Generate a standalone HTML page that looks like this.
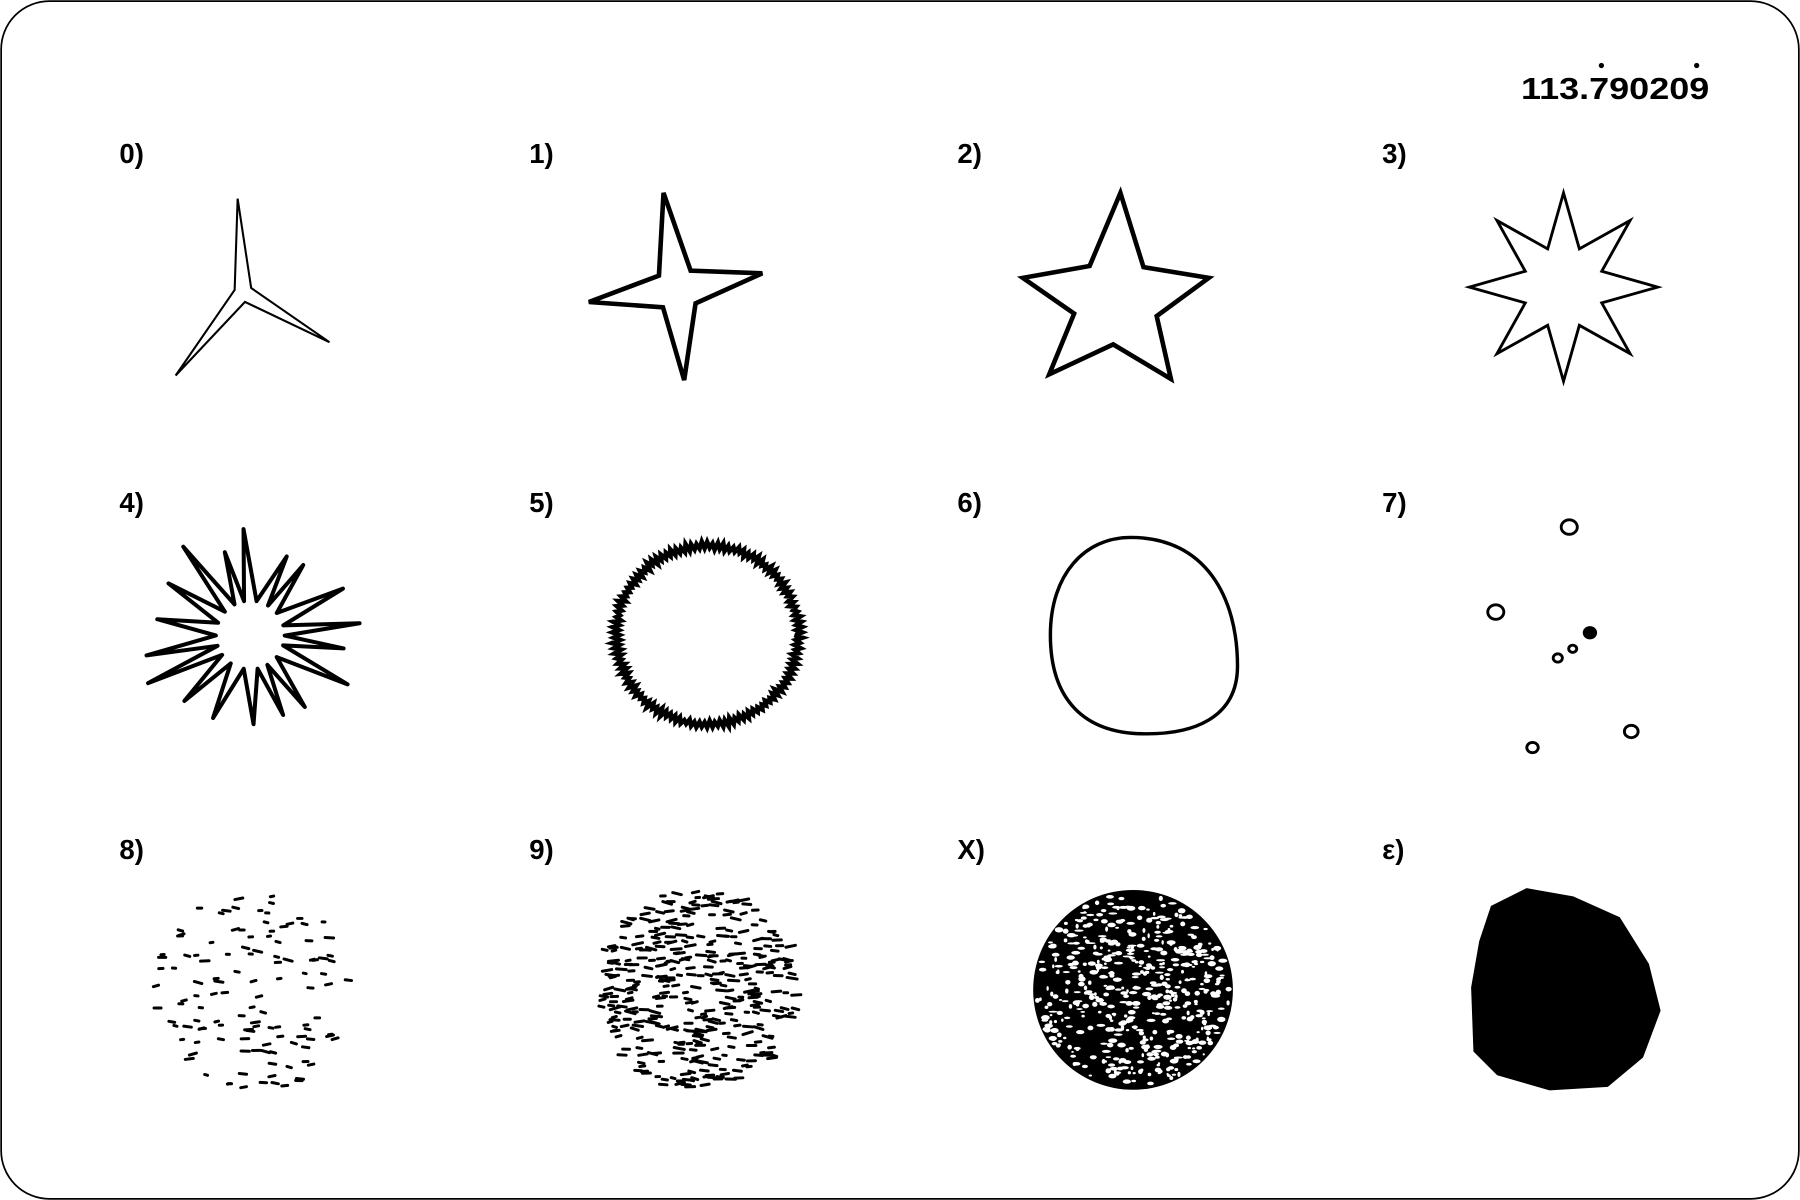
<!DOCTYPE html>
<html><head><meta charset="utf-8">
<style>
html,body{margin:0;padding:0;background:#fff;}
svg{display:block;}
text{font-family:"Liberation Sans",sans-serif;font-weight:bold;fill:#000;}
</style></head>
<body>
<svg id="s" width="1800" height="1200" viewBox="0 0 1568 1045" preserveAspectRatio="none" xmlns="http://www.w3.org/2000/svg">
<rect x="1" y="1" width="1566" height="1043" rx="42" ry="42" fill="#fff" stroke="#000" stroke-width="1.5"/>
<text x="1325" y="86" font-size="27" textLength="164" lengthAdjust="spacingAndGlyphs">113.790209</text>
<circle cx="1395" cy="57" r="2.3" fill="#000"/>
<circle cx="1478" cy="57" r="2.3" fill="#000"/>
<g id="labels" font-size="24"></g>
<g id="shapes"></g>
</svg>
<script>
const labels=["0)","1)","2)","3)","4)","5)","6)","7)","8)","9)","X)","ε)"];
const colX=[104,461,834,1204];
const rowY=[142,446,748];
const NS="http://www.w3.org/2000/svg";
const lg=document.getElementById('labels'),sg=document.getElementById('shapes');
labels.forEach((t,i)=>{
  const e=document.createElementNS(NS,'text');
  e.setAttribute('x',colX[i%4]);e.setAttribute('y',rowY[Math.floor(i/4)]);e.textContent=t;
  
  
  lg.appendChild(e);
});
function el(tag,attrs,name){const e=document.createElementNS(NS,tag);for(const k in attrs)e.setAttribute(k,attrs[k]);
  
  
  sg.appendChild(e);return e;}
let seed=12345;function rnd(){seed=(seed*16807)%2147483647;return seed/2147483647;}
function starFromTips(cx,cy,tips,inner){let d="";const n=tips.length;
  tips.forEach((p,i)=>{const q=tips[(i+1)%n];
    const a1=Math.atan2(p[1]-cy,p[0]-cx),a2=Math.atan2(q[1]-cy,q[0]-cx);
    let da=a2-a1;while(da<0)da+=2*Math.PI;const am=a1+da/2;
    d+=(i?"L":"M")+p[0]+","+p[1]+"L"+(cx+inner*Math.cos(am)).toFixed(1)+","+(cy+inner*Math.sin(am)).toFixed(1);});
  return d+"Z";}
// 0
el('path',{d:starFromTips(212,255,[[207,173],[287,298],[153,327]],8),fill:'none',stroke:'#000','stroke-width':1.8},'shape-0-tristar');
// 1
el('path',{d:starFromTips(590,252,[[578,168],[664,238],[596,331],[513,263]],20),fill:'none',stroke:'#000','stroke-width':4},'shape-1-fourstar');
// 2
el('path',{d:starFromTips(972,262,[[976,168],[1053,242],[1020,330],[914,326],[891,242]],38),fill:'none',stroke:'#000','stroke-width':4},'shape-2-fivestar');
// 3
(function(){const t=[];for(let i=0;i<8;i++){const a=-Math.PI/2+i*Math.PI/4;t.push([1362+82*Math.cos(a),250+82*Math.sin(a)]);}
el('path',{d:starFromTips(1362,250,t,36),fill:'none',stroke:'#000','stroke-width':2.5},'shape-3-eightstar');})();
// 4
(function(){const t=[];const n=18;for(let i=0;i<n;i++){const a=-Math.PI/2+i*2*Math.PI/n+(rnd()-0.5)*0.15;const r=74+rnd()*22;t.push([218+r*Math.cos(a)*1.05,553+r*Math.sin(a)]);}
el('path',{d:starFromTips(218,553,t,30),fill:'none',stroke:'#000','stroke-width':3.5,'stroke-linejoin':'round'},'shape-4-sun');})();
// 5
(function(){let d="";const n=220;for(let i=0;i<=n;i++){const a=i*2*Math.PI/n;const r=78+(i%2?2.5:-2.5)*(0.5+rnd());d+=(i?"L":"M")+(616+r*Math.cos(a)*1.02).toFixed(1)+","+(553+r*Math.sin(a)).toFixed(1);}
el('path',{d:d,fill:'none',stroke:'#000','stroke-width':4},'shape-5-jagged-circle');})();
// 6
el('path',{d:"M985,468 C1050,468 1078,520 1078,580 C1078,625 1040,640 995,639 C945,638 915,610 915,553 C915,500 945,468 985,468Z",fill:'none',stroke:'#000','stroke-width':3},'shape-6-circle');
// 7
const dots7=[[1367,459,7,0],[1303,533,7,0],[1385,551,5,1],[1357,573,4,0],[1370,565,3.5,0],[1335,651,5,0],[1421,637,6,0]];
dots7.forEach((p,i)=>el('ellipse',{cx:p[0],cy:p[1],rx:p[2],ry:p[2]*0.9,fill:p[3]?'#000':'none',stroke:'#000','stroke-width':2.5},'shape-7-dot-'+i));
// textures
function texture(cx,cy,r,n,len,w,name){const g=el('g',{},name);
  for(let i=0;i<n;i++){let x,y;do{x=(rnd()*2-1)*r;y=(rnd()*2-1)*r;}while(x*x+y*y>r*r);
    const a=-0.3+rnd()*0.6,l=len*(0.5+rnd());
    const ln=document.createElementNS(NS,'line');
    ln.setAttribute('x1',(cx+x).toFixed(1));ln.setAttribute('y1',(cy+y).toFixed(1));
    ln.setAttribute('x2',(cx+x+l*Math.cos(a)).toFixed(1));ln.setAttribute('y2',(cy+y+l*Math.sin(a)).toFixed(1));
    ln.setAttribute('stroke','#000');ln.setAttribute('stroke-width',w);ln.setAttribute('stroke-linecap','round');
    
    
    g.appendChild(ln);}}
texture(220,862,88,120,5,2.6,'shape-8-sparse');
texture(605,862,88,380,6,2.6,'shape-9-dense');
el('circle',{cx:987,cy:862,r:87,fill:'#000'},'shape-x-disc');
(function(){const g=el('g',{},'shape-x-holes');for(let i=0;i<520;i++){let x,y;do{x=(rnd()*2-1)*84;y=(rnd()*2-1)*84;}while(x*x+y*y>84*84);
  const e=document.createElementNS(NS,'ellipse');e.setAttribute('cx',(987+x).toFixed(1));e.setAttribute('cy',(862+y).toFixed(1));
  e.setAttribute('rx',(1+rnd()*3).toFixed(1));e.setAttribute('ry',(0.8+rnd()*1.5).toFixed(1));e.setAttribute('fill','#fff');
  
  
  g.appendChild(e);}})();
// epsilon blob
el('path',{d:"M1300,790 L1330,775 L1370,782 L1410,800 L1435,840 L1445,880 L1430,920 L1400,945 L1350,948 L1305,935 L1285,915 L1283,860 L1290,820Z",fill:'#000',stroke:'#000','stroke-width':3},'shape-eps-blob');
el('path',{d:"M1310,790 C1290,830 1282,880 1290,918 M1325,780 C1300,800 1295,850 1305,900",fill:'none',stroke:'#000','stroke-width':2},'shape-eps-scribble');
</script>
</body></html>
